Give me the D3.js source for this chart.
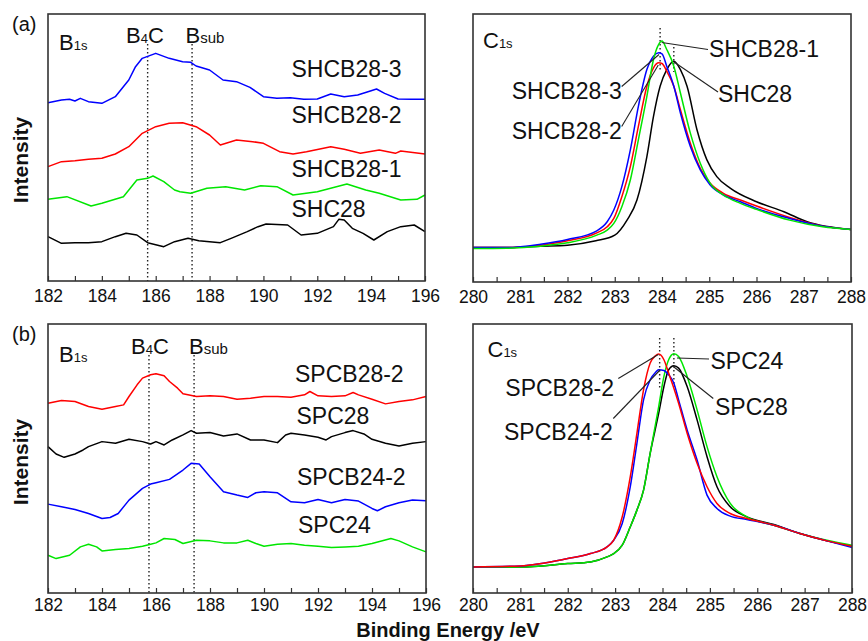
<!DOCTYPE html>
<html><head><meta charset="utf-8">
<script src="https://cdn.jsdelivr.net/npm/d3@7"></script>
<style>body{margin:0;background:#fff}svg{display:block;font-family:Arial,"Liberation Sans",sans-serif}</style>
</head><body>
<svg id="chart" width="868" height="641"></svg>
<script>
// ---------- DATA (binding energy eV, intensity a.u.) ----------
// Panel (a) B1s
const SHCB28_3_B = [[182,535],[182.5,543],[182.8,545],[183,540],[183.2,548],[183.5,538],[184,533],[184.5,553],[185,603],[185.25,643],[185.5,668],[186,683],[186.5,668],[187,658],[187.3,656],[187.5,645],[188,633],[188.5,603],[189,598],[189.5,581],[190,553],[190.5,548],[191,550],[191.5,545],[192,546],[192.5,561],[193,553],[193.5,558],[194,571],[194.2,576],[194.5,563],[195,546],[195.5,545],[196,545]];
const SHCB28_2_B = [[182,343],[182.5,358],[183,361],[183.5,365],[184,368],[184.5,381],[185,403],[185.5,443],[186,463],[186.5,473],[187,475],[187.5,463],[188,438],[188.4,408],[189,423],[189.6,418],[190,413],[190.6,388],[191.1,381],[191.6,388],[192.5,403],[193,395],[193.6,383],[194.3,393],[194.9,383],[195.1,390],[196,381]];
const SHCB28_1_B = [[182,245],[182.7,253],[183.6,225],[184,233],[184.8,253],[185.3,303],[185.7,308],[185.9,315],[186.3,298],[186.7,273],[186.9,268],[187.3,263],[187.9,278],[188.6,283],[189.3,273],[189.9,286],[190.5,283],[191.1,258],[192,268],[193.1,291],[193.8,273],[194.3,263],[195.1,243],[195.7,245],[196,258]];
const SHC28_B = [[182,133],[182.5,113],[183,115],[183.5,115],[184,118],[184.5,133],[184.9,143],[185.3,138],[185.7,115],[186.3,103],[186.7,118],[187.2,128],[187.6,121],[188.4,115],[188.8,128],[189.4,148],[189.8,163],[190.1,171],[190.9,168],[191.4,138],[192,143],[192.6,163],[192.8,185],[193,183],[193.3,158],[193.7,143],[194.1,123],[194.6,148],[195.1,163],[195.6,168],[196,148]];
// Panel (a) C1s
const SHCB28_3_C = [[280,103],[280.72,103],[281.43,113],[282,127],[282.62,153],[282.84,180],[282.98,215],[283.15,285],[283.33,395],[283.5,525],[283.68,635],[283.82,675],[283.93,685],[284.0,682],[284.1,645],[284.25,585],[284.39,505],[284.6,405],[284.81,335],[285.02,290],[285.3,260],[285.66,240],[286,220],[286.7,190],[287.4,167],[288,157]];
const SHCB28_2_C = [[280,103],[280.72,103],[281.43,110],[282,123],[282.62,147],[282.84,165],[282.98,190],[283.15,255],[283.33,345],[283.5,465],[283.68,585],[283.82,640],[283.93,655],[284.0,653],[284.1,630],[284.25,585],[284.39,515],[284.6,415],[284.81,340],[285.02,295],[285.3,265],[285.66,245],[286,227],[286.7,193],[287.4,167],[288,157]];
const SHCB28_1_C = [[280,100],[280.72,101],[281.43,107],[282,117],[282.62,140],[282.84,155],[282.98,175],[283.15,225],[283.33,305],[283.5,425],[283.68,555],[283.82,665],[283.93,710],[284.0,720],[284.1,695],[284.25,645],[284.39,565],[284.6,445],[284.81,355],[285.02,295],[285.3,260],[285.66,235],[286,217],[286.7,185],[287.4,165],[288,157]];
const SHC28_C = [[280,103],[280.72,103],[281.43,107],[282,110],[282.6,123],[283,140],[283.26,185],[283.47,245],[283.68,375],[283.82,495],[283.96,585],[284.1,635],[284.25,660],[284.39,635],[284.53,585],[284.74,455],[284.95,365],[285.16,315],[285.45,280],[286,240],[286.58,210],[287.07,180],[288,157]];
// Panel (b) B1s
const SPCB28_2_B = [[182,568],[182.5,576],[183,573],[183.5,558],[184,550],[184.5,558],[184.8,563],[185,588],[185.3,623],[185.5,643],[185.8,653],[186,656],[186.3,650],[186.5,633],[186.8,613],[187,596],[187.5,588],[188,590],[188.5,588],[189,580],[189.5,583],[190,588],[190.5,588],[191,586],[191.5,593],[191.7,603],[192,590],[192.5,588],[193,590],[193.3,600],[193.5,593],[194,580],[194.5,566],[195,573],[195.5,578],[196,588]];
const SPC28_B = [[182,438],[182.3,416],[182.6,406],[183,416],[183.3,428],[183.5,438],[184,453],[184.5,448],[185,460],[185.5,453],[185.8,446],[186,453],[186.3,443],[186.6,458],[187,473],[187.3,486],[187.5,478],[188,480],[188.5,470],[189,476],[189.5,458],[190,458],[190.5,450],[190.8,473],[191,478],[191.5,473],[192,466],[192.3,458],[192.5,468],[193,480],[193.3,486],[193.7,476],[194,460],[194.5,448],[195,440],[195.5,448],[196,453]];
const SPCB24_2_B = [[182,266],[182.5,258],[183,250],[183.5,238],[184,223],[184.3,226],[184.6,238],[185,278],[185.5,313],[185.8,326],[186,330],[186.5,340],[187,368],[187.3,388],[187.6,386],[188,348],[188.5,303],[189,293],[189.4,286],[189.7,300],[190,303],[190.5,300],[191,273],[191.5,270],[192,280],[192.5,270],[193,280],[193.5,275],[194,253],[194.2,246],[194.5,258],[195,270],[195.5,278],[196,276]];
const SPC24_B = [[182,113],[182.3,103],[182.8,113],[183.2,138],[183.5,146],[183.8,138],[184,126],[184.5,130],[185,133],[185.5,140],[185.8,146],[186,150],[186.3,163],[186.7,160],[187,148],[187.5,158],[188,156],[188.5,150],[189,150],[189.4,158],[189.7,148],[190,140],[190.5,146],[191,148],[191.5,143],[192,140],[192.5,136],[193,138],[193.5,140],[194,148],[194.7,163],[195,156],[195.5,138],[196,123]];
// Panel (b) C1s
const SPCB28_2_C = [[280,78],[281,81],[282,103],[282.48,118],[282.83,138],[282.97,158],[283.15,228],[283.32,348],[283.46,478],[283.6,608],[283.74,688],[283.85,710],[283.92,715],[284.03,698],[284.13,658],[284.24,613],[284.34,568],[284.52,478],[284.73,388],[284.94,318],[285.15,268],[285.43,238],[285.78,223],[286.35,203],[286.9,178],[287.47,156],[288,140]];
const SPCB24_2_C = [[280,78],[281,81],[282,103],[282.48,118],[282.83,138],[282.97,158],[283.15,208],[283.32,318],[283.46,448],[283.6,578],[283.74,638],[283.85,660],[283.92,668],[284.03,666],[284.13,653],[284.24,628],[284.34,578],[284.52,488],[284.73,398],[284.94,293],[285.15,253],[285.43,230],[285.78,220],[286.35,203],[286.9,178],[287.47,156],[288,136]];
const SPC24_C = [[280,78],[281,78],[282,88],[282.48,93],[282.83,108],[282.97,118],[283.15,143],[283.32,198],[283.46,248],[283.6,308],[283.74,418],[283.92,558],[284.03,648],[284.13,698],[284.24,716],[284.34,708],[284.52,648],[284.73,548],[284.94,438],[285.15,348],[285.43,268],[285.78,228],[286.35,203],[286.9,178],[287.47,158],[288,143]];
const SPC28_C = [[280,78],[281,78],[282,88],[282.48,93],[282.83,108],[282.97,118],[283.15,143],[283.32,198],[283.46,248],[283.6,308],[283.74,418],[283.92,538],[284.03,618],[284.13,668],[284.24,680],[284.34,673],[284.52,618],[284.73,518],[284.94,408],[285.15,318],[285.43,258],[285.78,228],[286.35,205],[286.9,178],[287.47,156],[288,140]];

const seriesNamesA = ["SHCB28-3","SHCB28-2","SHCB28-1","SHC28"];
const seriesNamesB = ["SPCB28-2","SPC28","SPCB24-2","SPC24"];
const refLinesB = [185.7, 187.35];   // B4C, Bsub
const refLinesC = [283.96, 284.25];
const xDomainB = [182,196], xDomainC = [280,288];
const tickValuesB = d3.range(182,197,1);
const tickValuesC = d3.range(280,288.01,0.5);

// ---------- DRAW ----------
const svg = d3.select("#chart");
const colors = {blue:"#0000ff", red:"#ff0000", green:"#00e600", black:"#000000"};

function panel(cfg){
  const g = svg.append("g");
  const x = d3.scaleLinear().domain(cfg.xDomain).range([cfg.x0,cfg.x1]);
  const y = d3.scaleLinear().domain([0,cfg.yMax]).range([cfg.y1,cfg.y0]);
  // ref lines
  cfg.refs.forEach(r=>{
    g.append("line").attr("x1",x(r.v)).attr("x2",x(r.v)).attr("y1",r.top).attr("y2",r.bottom)
      .attr("stroke","#222").attr("stroke-width",1.4).attr("stroke-dasharray","1.5,2.5");
  });
  const line = d3.line().x(d=>x(d[0])).y(d=>y(d[1])).curve(cfg.curve);
  cfg.series.forEach(s=>{
    g.append("path").attr("d",line(s.data)).attr("fill","none").attr("stroke",colors[s.color])
      .attr("stroke-width",1.5).attr("stroke-linejoin","round");
  });
  // axis
  const ax = d3.axisBottom(x).tickValues(cfg.ticks).tickSizeInner(-5).tickSizeOuter(0)
      .tickPadding(cfg.pad).tickFormat(cfg.fmt);
  const ag = g.append("g").attr("transform",`translate(0,${cfg.y1})`).call(ax);
  ag.select(".domain").remove();
  ag.selectAll(".tick line").attr("stroke","#333").attr("stroke-width",1.2);
  ag.selectAll(".tick text").attr("font-size","17.5px").attr("fill","#111")
    .attr("font-family","Arial, 'Liberation Sans', sans-serif");
  // frame
  g.append("rect").attr("x",cfg.x0).attr("y",cfg.y0).attr("width",cfg.x1-cfg.x0).attr("height",cfg.y1-cfg.y0)
    .attr("fill","none").attr("stroke","#333").attr("stroke-width",1.6);
  return {x,y,g};
}

function subLabel(x,yb,main,sub,after,subSize,mainSize){
  const t = svg.append("text").attr("x",x).attr("y",yb).attr("font-size",(mainSize||22)+"px").attr("fill","#111");
  t.append("tspan").text(main);
  t.append("tspan").attr("font-size",(subSize||13)+"px").text(sub);
  if(after) t.append("tspan").text(after);
}
function label(x,yb,txt,anchor){
  svg.append("text").attr("x",x).attr("y",yb).attr("font-size","23px").attr("fill","#111")
    .attr("text-anchor",anchor||"start").text(txt);
}
function leader(x1,y1,x2,y2){
  svg.append("line").attr("x1",x1).attr("y1",y1).attr("x2",x2).attr("y2",y2)
    .attr("stroke","#222").attr("stroke-width",1.1);
}

const fmtB = d => (d%2===0 ? d : "");
const fmtC = d => (Number.isInteger(d) ? d : "");

// (a) B1s
panel({xDomain:xDomainB, x0:48, x1:425, y0:14, y1:281, yMax:801, ticks:tickValuesB, fmt:fmtB, pad:9,
  curve:d3.curveLinear,
  refs:[{v:refLinesB[0],top:44,bottom:281},{v:refLinesB[1],top:44,bottom:281}],
  series:[{data:SHCB28_3_B,color:"blue"},{data:SHCB28_2_B,color:"red"},{data:SHCB28_1_B,color:"green"},{data:SHC28_B,color:"black"}]});
// (a) C1s
panel({xDomain:xDomainC, x0:473, x1:851, y0:14, y1:282, yMax:801, ticks:tickValuesC, fmt:fmtC, pad:9,
  curve:d3.curveMonotoneX,
  refs:[{v:refLinesC[0],top:28,bottom:72},{v:refLinesC[1],top:47,bottom:72}],
  series:[{data:SHC28_C,color:"black"},{data:SHCB28_2_C,color:"red"},{data:SHCB28_3_C,color:"blue"},{data:SHCB28_1_C,color:"green"}]});
// (b) B1s
panel({xDomain:xDomainB, x0:48, x1:426, y0:324, y1:593, yMax:805, ticks:tickValuesB, fmt:fmtB, pad:6,
  curve:d3.curveLinear,
  refs:[{v:185.74,top:355,bottom:593},{v:187.41,top:355,bottom:593}],
  series:[{data:SPCB28_2_B,color:"red"},{data:SPC28_B,color:"black"},{data:SPCB24_2_B,color:"blue"},{data:SPC24_B,color:"green"}]});
// (b) C1s
panel({xDomain:xDomainC, x0:473, x1:852, y0:324, y1:593, yMax:805, ticks:tickValuesC, fmt:fmtC, pad:6,
  curve:d3.curveMonotoneX,
  refs:[{v:283.94,top:338,bottom:390},{v:284.24,top:338,bottom:387}],
  series:[{data:SPC28_C,color:"black"},{data:SPC24_C,color:"green"},{data:SPCB24_2_C,color:"blue"},{data:SPCB28_2_C,color:"red"}]});

// panel letters
svg.append("text").attr("x",12).attr("y",31).attr("font-size","20px").attr("fill","#111").text("(a)");
svg.append("text").attr("x",12).attr("y",341).attr("font-size","20px").attr("fill","#111").text("(b)");

// region labels
subLabel(59,50,"B","1s",null,13);
subLabel(126,43,"B","4","C",13);
subLabel(185.5,43,"B","sub",null,15);
subLabel(59,362,"B","1s",null,13);
subLabel(131,354,"B","4","C",13);
subLabel(189,354,"B","sub",null,15);
subLabel(483,48,"C","1s",null,13);
subLabel(487.5,357,"C","1s",null,13);

// series labels (a) left
label(291.5,77,seriesNamesA[0]);
label(291.5,123,seriesNamesA[1]);
label(291.5,177,seriesNamesA[2]);
label(291.5,217,seriesNamesA[3]);
// (b) left
label(295,382,seriesNamesB[0]);
label(296.5,424,seriesNamesB[1]);
label(297,485,seriesNamesB[2]);
label(298,533,seriesNamesB[3]);

// (a) right with leaders
leader(661.7,42.5,708,49.5); label(709,57,seriesNamesA[2]);
leader(659,54.5,621.7,86.5); label(621.7,98.5,seriesNamesA[0],"end");
leader(673.3,61.5,718,92); label(718,101.5,seriesNamesA[3]);
leader(658.3,65,621.7,126.5); label(621.7,138.5,seriesNamesA[1],"end");
// (b) right with leaders
leader(677,358,709,359); label(710.5,369,seriesNamesB[3]);
leader(658.3,354.5,618.3,378.5); label(614,396,seriesNamesB[0],"end");
leader(672.7,366,713.3,398.5); label(715,415,seriesNamesB[1]);
leader(660,370,613.3,418.5); label(612.7,440,seriesNamesB[2],"end");

// axis titles
["Intensity","Intensity"].forEach((t,i)=>{
  svg.append("text").attr("transform",`translate(28,${i?462:160}) rotate(-90)`).attr("text-anchor","middle")
    .attr("font-size","21px").attr("font-weight","bold").attr("fill","#111").text(t);
});
svg.append("text").attr("x",448).attr("y",636.5).attr("text-anchor","middle").attr("font-size","20px")
  .attr("font-weight","bold").attr("fill","#111").text("Binding Energy /eV");
</script>
</body></html>
